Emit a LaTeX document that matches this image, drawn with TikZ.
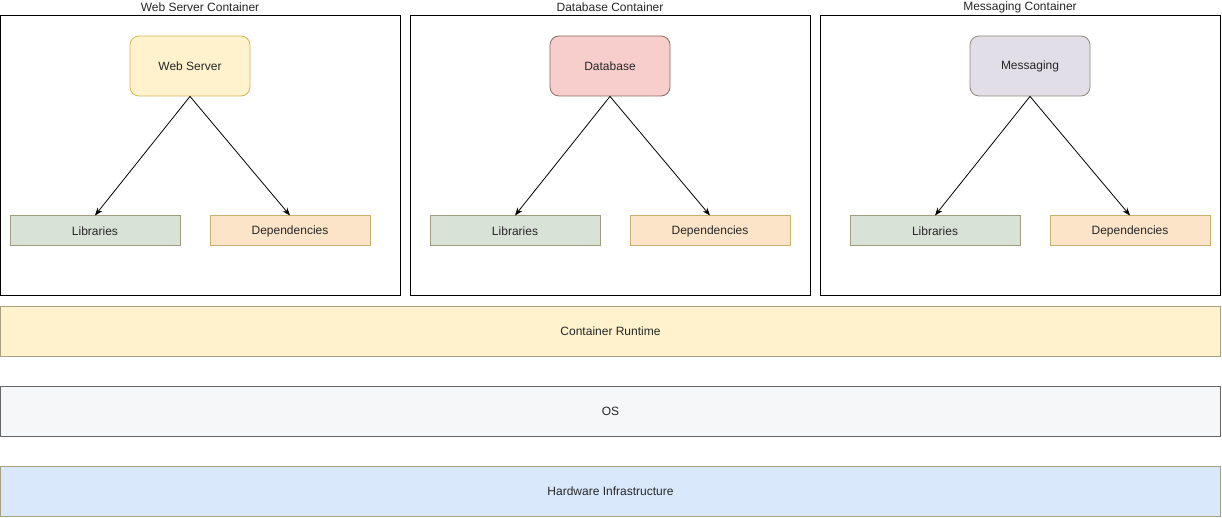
\documentclass[tikz,border=0pt]{standalone}
\usepackage{fontspec}
\setmainfont{Liberation Sans}
\usetikzlibrary{arrows.meta}
\definecolor{wsfill}{HTML}{FFF2CC}
\definecolor{wsdraw}{HTML}{D6B656}
\definecolor{dbfill}{HTML}{F8CECC}
\definecolor{dbdraw}{HTML}{8E6A60}
\definecolor{msfill}{HTML}{E2DEE8}
\definecolor{msdraw}{HTML}{8F8A7A}
\definecolor{libfill}{HTML}{D9E2D7}
\definecolor{libdraw}{HTML}{A09C80}
\definecolor{depfill}{HTML}{FCE4C8}
\definecolor{depdraw}{HTML}{C8B070}
\definecolor{osfill}{HTML}{F6F7F8}
\definecolor{hwfill}{HTML}{DAE8FC}
\definecolor{layerdraw}{HTML}{A8A080}
\tikzset{
  every node/.style={font=\fontsize{12}{14}\selectfont, text=black!85},
  cont/.style={draw=black, line width=1pt, fill=white},
  comp/.style={rounded corners=9pt, line width=0.8pt, minimum width=120pt, minimum height=60pt},
  libbox/.style={draw=libdraw, fill=libfill, line width=1pt, minimum width=170pt, minimum height=30pt},
  depbox/.style={draw=depdraw, fill=depfill, line width=1pt, minimum width=160pt, minimum height=30pt},
  layer/.style={line width=1pt, minimum width=1220pt, minimum height=50pt},
  conn/.style={draw=black, line width=0.8pt, -{Stealth[length=8pt,width=6pt]}}
}
\begin{document}
\begin{tikzpicture}[x=1pt,y=-1pt]
\useasboundingbox (0,0) rectangle (1222,518);
% containers
\foreach \x/\s/\name/\title/\main/\f/\d in {0/0/ws/Web Server Container/Web Server/wsfill/wsdraw, 410/10/db/Database Container/Database/dbfill/dbdraw, 820/20/ms/Messaging Container/Messaging/msfill/msdraw}{
  \draw[cont] (\x+0.5,16) rectangle (\x+400,296);
  \node[anchor=center] (\name title) at (\x+200,7) {\title};
  \node[comp, draw=\d, fill=\f] (\name) at (\x+\s+190,66) {\main};
  \node[libbox] (\name lib) at (\x+\s+95,231) {Libraries};
  \node[depbox] (\name dep) at (\x+\s+290,231) {Dependencies};
  \draw[conn] (\name.south) -- (\name lib.north);
  \draw[conn] (\name.south) -- (\name dep.north);
}
% layers
\node[layer, draw=layerdraw, fill=wsfill] (rt) at (610.5,331) {Container Runtime};
\node[layer, draw=black!60, fill=osfill] (os) at (610.5,411) {OS};
\node[layer, draw=layerdraw, fill=hwfill] (hw) at (610.5,491) {Hardware Infrastructure};
\end{tikzpicture}
\end{document}
